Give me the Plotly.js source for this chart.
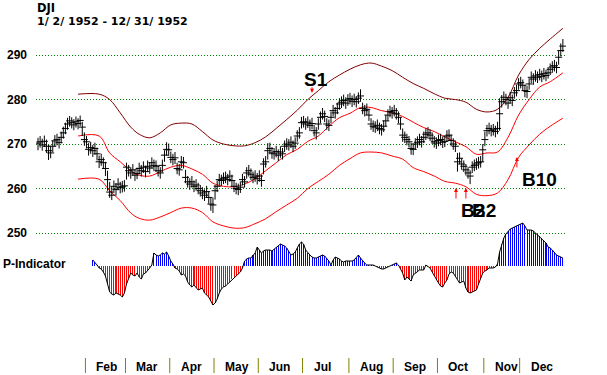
<!DOCTYPE html>
<html><head><meta charset="utf-8">
<script src="https://cdn.plot.ly/plotly-3.0.1.min.js"></script>
<style>html,body{margin:0;padding:0;background:#fff;}#chart{width:607px;height:375px;}</style>
</head><body><div id="chart"></div>
<script>
// ---------- DATA ----------
const titleLines = ['DJI', '1/ 2/ 1952 - 12/ 31/ 1952'];
const months = ['Feb','Mar','Apr','May','Jun','Jul','Aug','Sep','Oct','Nov','Dec'];
const monthStart = [22,41,62,83,104,125,147,168,189,211,228];
const yTicks = [250,260,270,280,290];

const closes = [
 270.2,270.5,269.8,270.6,269.5,268.5,268.0,269.5,270.7,271.0,270.3,271.5,272.5,273.5,274.5,275.2,274.8,274.3,275.0,274.6,275.3,273.8,
 271.0,270.5,268.8,269.2,268.5,269.0,267.8,266.0,266.5,265.8,264.5,262.0,259.2,258.5,260.5,259.8,261.0,260.2,260.4,
 260.6,264.8,264.0,263.5,264.2,263.0,263.4,264.5,264.0,264.8,263.8,265.0,264.6,265.8,265.2,265.0,264.0,263.5,265.2,267.5,268.8,
 268.7,267.0,266.5,266.9,264.5,264.2,266.0,265.8,262.5,261.5,261.0,261.5,260.5,260.8,260.0,259.5,259.0,258.5,259.3,258.0,256.5,
 256.3,259.5,260.5,262.0,261.8,262.3,262.5,262.0,262.8,261.8,260.5,260.0,259.8,260.3,262.0,261.5,263.5,264.0,263.2,262.5,262.8,
 262.2,262.8,261.8,265.5,266.0,268.5,269.0,268.0,267.8,268.3,267.5,268.2,267.8,269.5,270.0,269.8,270.4,269.5,270.2,271.8,272.5,
 274.8,275.0,274.5,274.9,274.2,274.6,273.0,272.5,274.5,276.0,276.8,276.2,274.5,274.2,276.0,277.5,277.0,278.0,279.0,279.4,279.8,279.2,
 279.9,280.2,279.6,280.0,279.5,280.3,280.8,278.0,277.5,277.8,276.5,274.5,274.0,273.8,274.2,273.5,273.2,274.0,275.2,276.5,277.3,
 277.0,277.5,276.8,276.0,274.5,272.0,271.5,271.0,270.5,269.0,268.8,270.0,270.4,271.0,270.5,271.5,272.2,272.5,272.0,271.3,270.5,
 270.2,270.8,271.0,270.4,270.6,271.8,272.0,270.8,270.0,269.5,266.0,266.8,265.5,265.0,264.2,263.5,262.8,264.8,265.2,265.5,265.8,266.0,
 268.7,271.0,273.0,273.5,273.0,273.2,272.8,273.5,276.8,279.5,280.5,280.0,279.2,280.4,279.8,281.5,282.0,
 283.5,283.8,283.2,282.0,281.8,283.5,285.0,284.6,285.3,285.0,285.6,285.2,285.8,285.4,286.0,286.8,287.3,287.6,287.2,289.5,291.0,292.0
];
const highs = [
 271.4,271.8,271.2,271.9,271.0,269.8,269.6,270.8,272.0,272.3,271.6,272.8,273.9,274.8,275.9,276.3,276.0,275.6,276.2,275.8,276.4,275.0,
 272.6,271.8,270.2,270.5,269.8,270.3,269.2,267.4,267.8,267.0,266.0,264.0,261.5,260.5,261.8,261.2,262.3,261.5,261.7,
 261.9,265.8,265.3,264.8,265.5,264.3,264.7,265.8,265.3,266.1,265.1,266.3,265.9,267.0,266.5,266.3,265.3,264.8,266.5,268.6,270.4,
 270.1,268.3,267.8,268.2,265.8,265.5,267.3,267.1,264.2,262.8,262.3,262.8,261.8,262.1,261.3,260.8,260.3,259.8,260.6,259.4,258.0,
 258.0,260.8,261.8,263.3,263.1,263.6,263.8,263.3,264.1,263.1,261.8,261.3,261.1,261.6,263.3,262.8,264.8,265.3,264.5,263.8,264.1,
 263.5,264.1,263.1,266.8,267.3,270.2,270.3,269.3,269.1,269.6,268.8,269.5,269.1,270.8,271.3,271.1,271.7,270.8,271.5,273.1,273.8,
 276.1,276.3,275.8,276.2,275.5,275.9,274.3,273.8,275.8,277.3,278.1,277.5,275.8,275.5,277.3,278.8,278.3,279.3,280.3,280.7,281.1,280.5,
 281.2,281.5,280.9,281.3,280.8,281.6,282.3,279.3,278.8,279.1,277.8,275.8,275.3,275.1,275.5,274.8,274.5,275.3,276.5,277.8,278.6,
 278.3,278.8,278.1,277.3,276.0,273.5,272.8,272.3,271.8,270.3,270.1,271.3,271.7,272.3,271.8,272.8,273.5,273.8,273.3,272.6,271.8,
 271.5,272.1,272.3,271.7,271.9,273.1,273.3,272.1,271.3,270.8,268.0,268.1,266.8,266.3,265.5,264.8,264.1,266.1,266.5,266.8,267.1,267.3,
 270.0,272.8,274.3,274.8,274.3,274.5,274.1,275.0,280.3,281.0,281.8,281.3,280.5,281.7,281.1,282.8,283.3,
 284.8,285.1,284.5,283.3,283.1,284.8,286.3,285.9,286.6,286.3,286.9,286.5,287.1,286.7,287.3,288.1,288.6,288.9,288.5,290.9,292.6,293.6
];
const lows = [
 268.6,269.2,268.5,269.3,268.0,266.4,266.8,268.2,269.4,269.7,269.0,270.2,271.2,272.2,273.2,273.9,273.5,273.1,273.7,273.3,274.0,271.8,
 269.6,269.0,267.4,267.8,267.1,267.6,266.3,264.6,265.1,264.4,262.8,259.5,257.9,257.4,259.0,258.4,259.6,258.9,259.1,
 259.3,262.0,262.7,262.2,262.9,261.7,262.1,263.2,262.7,263.5,262.5,263.7,263.3,264.5,263.9,263.7,262.7,262.2,263.6,266.0,267.4,
 267.3,265.7,265.2,265.5,263.2,262.9,264.6,264.5,261.2,260.2,259.7,260.2,259.2,259.5,258.7,258.2,257.6,257.2,257.9,256.6,255.0,
 254.5,257.5,259.2,260.7,260.5,261.0,261.2,260.7,261.5,260.5,259.2,258.7,258.5,259.0,260.7,260.2,262.2,262.7,261.9,261.2,261.5,
 260.9,261.5,260.4,263.2,264.7,266.5,267.7,266.7,266.5,267.0,266.2,266.9,266.5,268.2,268.7,268.5,269.1,268.2,268.9,270.5,271.2,
 273.5,273.7,273.2,273.6,272.9,273.3,271.7,271.0,273.2,274.7,275.5,274.9,273.2,272.9,274.7,276.2,275.7,276.7,277.7,278.1,278.5,277.9,
 278.6,278.9,278.3,278.7,278.2,279.0,279.5,276.7,276.2,276.5,275.2,273.2,272.7,272.5,272.9,272.2,271.9,272.7,273.9,275.2,276.0,
 275.7,276.2,275.5,274.7,273.2,270.5,270.2,269.7,269.2,267.6,267.5,268.7,269.1,269.7,269.2,270.2,270.9,271.2,270.7,270.0,269.2,
 268.9,269.5,269.7,269.1,269.3,270.5,270.7,269.5,268.7,268.2,263.8,265.5,264.2,263.7,262.9,262.2,261.0,263.5,263.9,264.2,264.5,264.7,
 266.0,269.5,271.7,272.2,271.7,271.9,271.5,272.2,273.0,278.2,279.2,278.7,277.9,279.1,278.5,280.2,280.7,
 282.2,282.5,281.9,280.5,280.3,282.2,283.7,283.3,284.0,283.7,284.3,283.9,284.5,284.1,284.7,285.5,286.0,286.3,285.9,287.8,289.7,290.7
];

const bandDay = [19,29,34,39,44,48,53,58,63,68,73,78,83,88,93,98,103,108,113,118,123,128,133,138,143,148,153,158,163,168,173,178,183,188,193,198,203,208,213,218,223,228,233,238,243,249];
const upperBand = [281.2,281.2,280.0,277.0,273.8,272.2,271.4,272.5,274.3,274.7,274.5,272.8,270.9,270.0,269.6,269.6,270.3,271.6,273.5,275.5,277.6,280.0,282.0,284.0,285.5,286.8,287.8,288.2,287.5,286.5,285.0,283.6,282.5,281.3,280.3,280.0,279.4,277.8,277.2,277.8,280.5,285.5,289.0,291.5,293.6,296.0];
const middleBand = [271.8,271.8,268.0,266.0,264.0,263.0,262.8,263.8,264.8,265.2,264.4,263.2,261.2,260.5,260.4,261.0,262.2,264.0,265.8,267.6,268.8,270.6,271.8,274.0,275.9,276.9,278.2,278.2,277.5,277.0,276.2,274.9,273.7,272.8,271.6,270.5,269.4,267.7,268.0,268.2,271.5,276.5,280.0,282.8,284.0,286.0];
const lowerBand = [262.1,262.1,259.5,257.3,254.5,253.3,252.9,253.6,254.6,255.6,255.6,254.6,252.5,251.6,251.1,251.2,252.1,253.2,254.8,256.3,257.8,260.0,261.6,263.2,265.2,266.7,268.0,268.2,268.0,267.3,266.6,264.7,263.8,262.8,261.6,261.2,260.4,258.7,258.4,259.0,262.0,267.0,269.8,272.2,274.0,275.8];

const pStart = 26;
const pInd = [
 6,4,1,-2,-3,-6,-10,-18,-26,-28,
 -29,-27,-28,-29,-31,-27,-18,-12,-7,-9,
 -10,-7,-11,-13,-8,-7,-5,-2,1,13,
 11,10,11,13,12,14,10,5,2,-2,
 -3,-5,-9,-8,-10,-16,-19,-21,-19,-22,
 -24,-23,-22,-27,-29,-31,-35,-39,-37,-33,
 -27,-23,-21,-20,-18,-16,-13,-11,-10,-8,
 -6,-2,5,7,8,8,11,13,19,16,
 13,15,16,16,16,15,17,19,20,22,
 21,20,18,15,11,12,14,18,22,24,
 22,16,13,11,9,8,8,9,10,11,
 10,8,5,1,6,9,8,7,5,4,
 5,5,5,5,6,8,11,8,5,3,
 1,1,1,1,0,-1,-2,-3,-3,-2,
 -1,0,1,2,3,1,-3,-7,-14,-11,
 -13,-15,-9,-7,-6,-4,-4,-4,1,-1,
 -2,-6,-10,-14,-17,-20,-21,-17,-14,-8,
 -6,-7,-10,-13,-17,-16,-15,-22,-26,-27,
 -26,-25,-24,-18,-13,-7,-5,-4,-2,-2,
 -2,-1,2,14,22,28,32,35,37,38,
 39,40,41,42,43,40,36,36,36,35,
 33,32,30,28,26,23,19,18,16,13,
 11,10,9,8
];

const signalLabel = ['S1','B2','B2','B10'];
const signalDay = [130, 198.3, 203, 227.2];
const signalLevel = [281.5, 260.1, 260.1, 267.1];

// ---------- STYLE / LAYOUT ----------
const W = 607, H = 375;
const FONT = 'Liberation Sans, Arial, sans-serif';
const TITLE_FONT = 'DejaVu Sans, Liberation Sans, sans-serif';
const py = p => 1 - p / H;       // pixel row -> paper y
const px = p => p / W;           // pixel col -> paper x

const days = closes.map((_, k) => k);
const pDays = pInd.map((_, k) => pStart + k);

const traces = [
  { type:'bar', x:pDays, y:pInd, xaxis:'x', yaxis:'y2', width:0.5,
    marker:{ color:pInd.map(v => v >= 0 ? '#0000ff' : '#ff0000'), line:{width:0} }, hoverinfo:'skip' },
  { type:'scatter', mode:'lines', x:pDays, y:pInd, xaxis:'x', yaxis:'y2',
    line:{ color:'#000000', width:1 }, hoverinfo:'skip' },
  { type:'scatter', mode:'lines', x:bandDay, y:upperBand, line:{ color:'#800000', width:1, shape:'spline', smoothing:1 }, hoverinfo:'skip' },
  { type:'scatter', mode:'lines', x:bandDay, y:middleBand, line:{ color:'#ff0000', width:1, shape:'spline', smoothing:1 }, hoverinfo:'skip' },
  { type:'scatter', mode:'lines', x:bandDay, y:lowerBand, line:{ color:'#ff0000', width:1, shape:'spline', smoothing:1 }, hoverinfo:'skip' },
  { type:'scatter', mode:'markers', x:days, y:closes,
    marker:{ symbol:'line-ew', size:5, color:'#000000', line:{ color:'#000000', width:1 } },
    error_y:{ type:'data', symmetric:false,
      array: highs.map((h, k) => h - closes[k]),
      arrayminus: lows.map((l, k) => closes[k] - l),
      width:0, thickness:1, color:'#000000' },
    hoverinfo:'skip' }
];

const boldFont = (size, color, fam) => ({ family:fam || FONT, size:size, color:color || '#000000', weight:700 });

const annotations = [];
annotations.push({ xref:'paper', yref:'paper', x:px(36), y:py(0), xanchor:'left', yanchor:'top', borderpad:0,
  text:titleLines[0], showarrow:false, font:boldFont(11.5, '#000000', TITLE_FONT) });
annotations.push({ xref:'paper', yref:'paper', x:px(36), y:py(14), xanchor:'left', yanchor:'top', borderpad:0,
  text:titleLines[1], showarrow:false, font:boldFont(11, '#000000', TITLE_FONT) });
annotations.push({ xref:'paper', yref:'paper', x:px(1), y:py(264), xanchor:'left', yanchor:'middle',
  text:'P-Indicator', showarrow:false, font:boldFont(12) });
months.forEach((m, k) => {
  annotations.push({ xref:'x', yref:'paper', x:monthStart[k] + 0.5, xshift:9, y:py(367), xanchor:'left', yanchor:'middle',
    text:m, showarrow:false, font:boldFont(12) });
});
const arrowTail = [-7, 12, 12, 12];
const labelShift = [[4, 13], [17, -22], [18, -22], [23, -23]];
signalLabel.forEach((s, k) => {
  annotations.push({ xref:'x', yref:'y', x:signalDay[k], y:signalLevel[k], text:'', showarrow:true,
    ax:0, ay:arrowTail[k], arrowhead:2, arrowsize:0.8, arrowwidth:1, arrowcolor:'#ff0000', standoff:0, startstandoff:0 });
  annotations.push({ xref:'x', yref:'y', x:signalDay[k], y:signalLevel[k], xshift:labelShift[k][0], yshift:labelShift[k][1],
    xanchor:'center', yanchor:'middle', text:s, showarrow:false, font:boldFont(19) });
});

const shapes = monthStart.map(m => ({ type:'line', xref:'x', yref:'paper', x0:m + 0.5, x1:m + 0.5,
  y0:py(373), y1:py(358), line:{ color:'#808000', width:1 } }));

const layout = {
  width:W, height:H, margin:{l:0, r:0, t:0, b:0}, showlegend:false,
  paper_bgcolor:'#ffffff', plot_bgcolor:'rgba(0,0,0,0)',
  xaxis:{ domain:[px(36), px(566)], range:[-0.95, 250.49], visible:false, fixedrange:true },
  yaxis:{ domain:[py(240), py(20)], range:[248.43, 297.87], tickvals:yTicks, ticktext:yTicks.map(String),
    showgrid:true, gridcolor:'#008000', griddash:'1px,2px', gridwidth:1, zeroline:false, showline:false,
    ticks:'', ticklabelstandoff:8, tickfont:boldFont(12), fixedrange:true },
  yaxis2:{ domain:[py(320), py(215)], range:[-54, 51], visible:false, fixedrange:true },
  annotations:annotations, shapes:shapes, bargap:0
};

Plotly.newPlot('chart', traces, layout, { displayModeBar:false, staticPlot:true });
</script>
</body></html>
